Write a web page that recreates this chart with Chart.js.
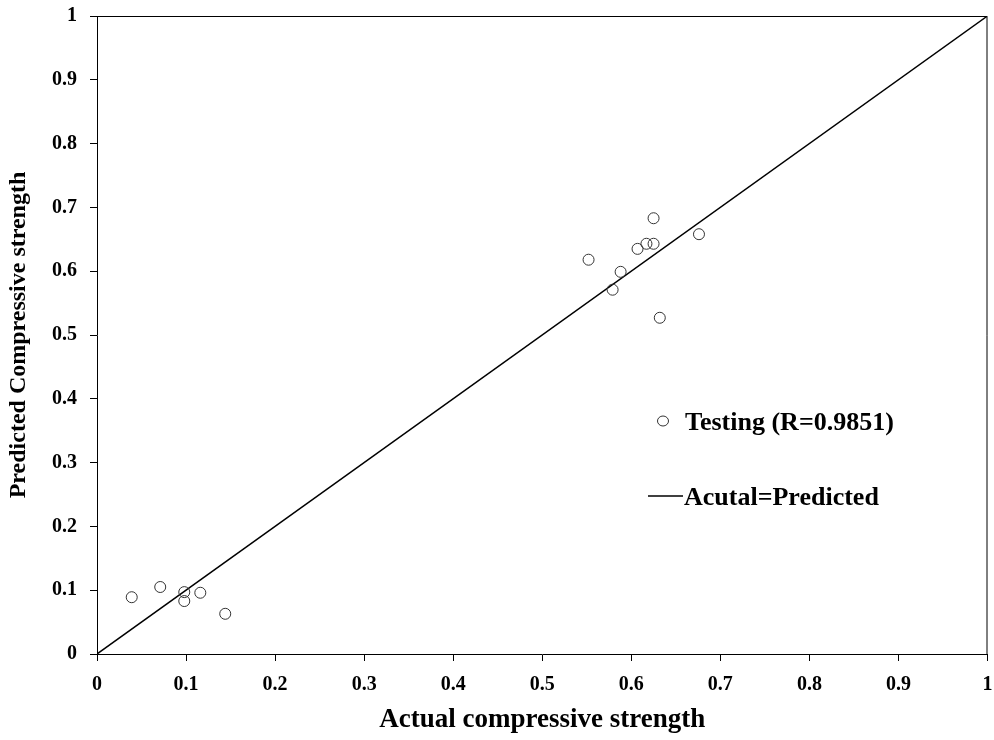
<!DOCTYPE html>
<html>
<head>
<meta charset="utf-8">
<script src="https://cdn.jsdelivr.net/npm/chart.js@4.4.1/dist/chart.umd.min.js"></script>
<style>
  html, body { margin: 0; padding: 0; background: #fff; }
  #wrap { width: 994px; height: 740px; }
</style>
</head>
<body>
<div id="wrap"><canvas id="grafica"></canvas></div>
<script>
// valores (actual, predicho)
var actual    = [0.552, 0.579, 0.588, 0.607, 0.617, 0.625, 0.625, 0.676, 0.632, 0.039, 0.071, 0.098, 0.098, 0.116, 0.144];
var predicho  = [0.618, 0.571, 0.599, 0.635, 0.643, 0.643, 0.683, 0.658, 0.527, 0.089, 0.105, 0.097, 0.083, 0.096, 0.063];
var linea_x   = [0, 1];
var linea_y   = [0, 1];
var ticks_vals = [0, 0.1, 0.2, 0.3, 0.4, 0.5, 0.6, 0.7, 0.8, 0.9, 1];

var etiqueta_puntos = "Testing (R=0.9851)";
var etiqueta_linea  = "Acutal=Predicted";

var fuente = "'Liberation Serif', 'Times New Roman', serif";

function armarPuntos(xs, ys) {
    var out = [];
    xs.forEach(function (v, i) {
        out.push({ x: v, y: ys[i] });
    });
    return out;
}

// marco superior/derecho y leyenda dentro del area
var marcoYLeyenda = {
    id: "marcoYLeyenda",
    afterDraw: function (chart) {
        var ctx = chart.ctx;
        var a = chart.chartArea;
        ctx.save();
        ctx.strokeStyle = "#000";
        ctx.lineWidth = 1;
        ctx.beginPath();
        ctx.moveTo(a.left, a.top + 0.5);
        ctx.lineTo(a.right - 0.5, a.top + 0.5);
        ctx.lineTo(a.right - 0.5, a.bottom);
        ctx.stroke();

        // leyenda
        ctx.font = "bold 26px " + fuente;
        ctx.fillStyle = "#000";
        ctx.textBaseline = "middle";
        ctx.textAlign = "left";
        ctx.beginPath();
        ctx.ellipse(663, 421, 5.5, 5, 0, 0, Math.PI * 2);
        ctx.strokeStyle = "#333";
        ctx.stroke();
        ctx.fillText(etiqueta_puntos, 685, 423);

        ctx.beginPath();
        ctx.strokeStyle = "#000";
        ctx.lineWidth = 1.5;
        ctx.moveTo(648, 496);
        ctx.lineTo(683, 496);
        ctx.stroke();
        ctx.fillText(etiqueta_linea, 684, 498);
        ctx.restore();
    }
};

function Grafica() {
    var ctx = document.getElementById("grafica").getContext("2d");
    new Chart(ctx, {
        type: "scatter",
        data: {
            datasets: [
                {
                    label: etiqueta_puntos,
                    data: armarPuntos(actual, predicho),
                    pointStyle: "circle",
                    pointRadius: 5.5,
                    pointBackgroundColor: "rgba(255,255,255,0)",
                    pointBorderColor: "#333",
                    pointBorderWidth: 1,
                    order: 1
                },
                {
                    label: etiqueta_linea,
                    type: "line",
                    data: armarPuntos(linea_x, linea_y),
                    borderColor: "#000",
                    borderWidth: 1.5,
                    pointRadius: 0,
                    fill: false,
                    order: 2
                }
            ]
        },
        options: {
            responsive: true,
            maintainAspectRatio: false,
            animation: false,
            layout: { padding: { left: 0, right: 6, top: 16, bottom: 0 } },
            plugins: {
                legend: { display: false },
                tooltip: { enabled: false }
            },
            scales: {
                x: {
                    type: "linear",
                    min: 0,
                    max: 1,
                    afterBuildTicks: function (s) {
                        s.ticks = ticks_vals.map(function (v) { return { value: v }; });
                    },
                    afterFit: function (s) { s.height = 86; s.paddingLeft = 0; s.paddingRight = 0; },
                    border: { display: true, color: "#000", width: 1 },
                    grid: { display: true, drawOnChartArea: false, drawTicks: true, tickLength: 7, color: "#000" },
                    ticks: {
                        color: "#000",
                        padding: 12,
                        maxRotation: 0,
                        autoSkip: false,
                        font: { family: fuente, size: 20, weight: "bold" },
                        callback: function (v) { return String(v); }
                    },
                    title: {
                        display: true,
                        text: "Actual compressive strength",
                        color: "#000",
                        padding: { top: 8, bottom: 4 },
                        font: { family: fuente, size: 27, weight: "bold" }
                    }
                },
                y: {
                    type: "linear",
                    min: 0,
                    max: 1,
                    afterBuildTicks: function (s) {
                        s.ticks = ticks_vals.map(function (v) { return { value: v }; });
                    },
                    afterFit: function (s) { s.width = 97; s.paddingTop = 0; s.paddingBottom = 0; },
                    border: { display: true, color: "#000", width: 1 },
                    grid: { display: true, drawOnChartArea: false, drawTicks: true, tickLength: 7, color: "#000" },
                    ticks: {
                        color: "#000",
                        padding: 13,
                        autoSkip: false,
                        font: { family: fuente, size: 20, weight: "bold" },
                        callback: function (v) { return String(v); }
                    },
                    title: {
                        display: true,
                        text: "Predicted Compressive strength",
                        color: "#000",
                        padding: { top: 4, bottom: 0 },
                        font: { family: fuente, size: 24, weight: "bold" }
                    }
                }
            }
        },
        plugins: [marcoYLeyenda]
    });
}

Grafica();
</script>
</body>
</html>
